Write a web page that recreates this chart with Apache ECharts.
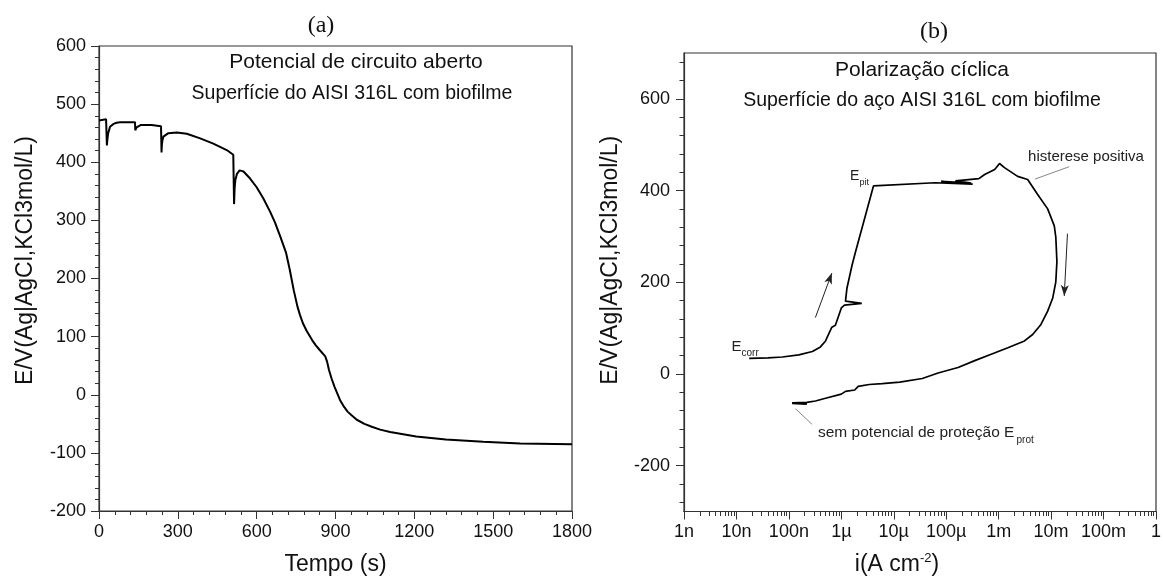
<!DOCTYPE html>
<html>
<head>
<meta charset="utf-8">
<script src="https://cdn.jsdelivr.net/npm/echarts@6/dist/echarts.min.js"></script>
<style>
  html, body { margin: 0; padding: 0; background: #fff; }
  #main { width: 1164px; height: 581px; }
</style>
</head>
<body>
<div id="main"></div>
<script>
// (a) potencial de circuito aberto
var timeA = [0, 27, 29, 30, 32, 35, 42, 55, 67, 80, 137, 138, 139, 143, 148, 158, 200, 236, 237, 238, 239, 241, 245, 251, 264, 296, 334, 385, 435, 486, 511, 513, 514, 516, 519, 525, 535, 550, 575, 600, 625, 651, 670, 690, 712, 726, 741, 755, 765, 776, 790, 811, 825, 840, 861, 868, 875, 885, 896, 917, 930, 946, 960, 981, 1010, 1038, 1070, 1108, 1207, 1320, 1462, 1603, 1800];
var potentialA = [472, 474, 474, 429, 440, 450, 461, 466, 468, 469, 469, 455, 455, 460, 462, 464, 464, 462, 440, 417, 428, 437, 444, 447, 450, 451, 449, 441, 432, 421, 413, 411, 328, 355, 370, 380, 386, 384, 372, 357, 338, 315, 296, 272, 244, 215, 180, 152, 137, 123, 110, 94, 85, 77, 66, 57, 43, 28, 14, -9, -19, -29, -35, -43, -50, -55, -60, -64, -72, -77, -81, -84, -85];

// (b) polarizacao ciclica, i em A cm-2
var currentB = [1.75e-8, 4e-8, 7.5e-8, 1.55e-7, 2.8e-7, 4.0e-7, 5.0e-7, 5.9e-7, 6.6e-7, 7.7e-7, 8.6e-7, 1.0e-6, 1.15e-6, 2.45e-6, 1.2e-6, 1.28e-6, 1.6e-6, 1.85e-6, 4.1e-6,
  6.1e-5, 3.2e-4, 8e-5, 3.0e-4, 1.5e-4, 4.2e-4, 5.4e-4, 8.4e-4, 1.04e-3, 1.29e-3, 2.3e-3, 3.57e-3, 5.5e-3, 8.6e-3, 1.15e-2, 1.23e-2, 1.29e-2, 1.23e-2, 1.07e-2, 8.6e-3, 6.4e-3, 4.45e-3, 3.1e-3, 1.5e-3, 7.2e-4, 3.5e-4, 1.68e-4,
  7e-5, 3.5e-5, 1.3e-5, 6e-6, 3.4e-6, 2.1e-6, 1.8e-6, 1.2e-6, 1.0e-6, 5e-7, 3.2e-7, 2.2e-7, 1.16e-7, 2.2e-7, 1.15e-7];
var potentialB = [34, 35, 37, 41.5, 49, 59, 72, 90, 102, 106, 122, 144, 150, 154, 159, 187, 237, 265, 410,
  417, 414, 420, 416, 421, 426, 435, 446, 459, 450, 431, 424, 392, 360, 323, 298, 245, 201, 165, 137, 108, 86, 72, 57, 43, 29, 14,
  2, -10, -18, -21, -23, -27, -35, -38, -44, -53, -59, -62, -63, -66, -64];

var yTicksB = [-200, 0, 200, 400, 600];
var xTickLabelsB = ['1n', '10n', '100n', '1µ', '10µ', '100µ', '1m', '10m', '100m', '1'];

// ticks menores
var yMinorB = [];
for (var v = -280; v <= 680; v += 40) { if (v % 200 !== 0) yMinorB.push(v); }
var xMinorExpB = [];
for (var d = -9; d < 0; d++) {
  for (var k = 2; k <= 9; k++) xMinorExpB.push(d + Math.log10(k));
}

var FONT = 'Liberation Sans';
var axisLine = { onZero: false, lineStyle: { color: '#333', width: 1.2 } };
var labelStyle = { color: '#111', fontSize: 18, fontFamily: FONT };
var plain = function (val) { return String(val); };

var chart = echarts.init(document.getElementById('main'));
chart.setOption({
  animation: false,
  backgroundColor: '#fff',
  grid: [
    { left: 99, top: 46, width: 473, height: 465, show: true, borderColor: '#333', borderWidth: 1.2 },
    { left: 684, top: 53, width: 475, height: 463, show: true, borderColor: '#333', borderWidth: 1.2 }
  ],
  xAxis: [
    {
      gridIndex: 0, type: 'value', position: 'bottom', min: 0, max: 1800, interval: 300,
      name: 'Tempo (s)', nameLocation: 'middle', nameGap: 42,
      nameTextStyle: { color: '#111', fontSize: 23, fontFamily: FONT },
      axisLine: axisLine,
      axisTick: { length: 8, lineStyle: { color: '#333' } },
      minorTick: { show: true, splitNumber: 5, length: 4, lineStyle: { color: '#333' } },
      axisLabel: Object.assign({ margin: 12, formatter: plain }, labelStyle),
      splitLine: { show: false }
    },
    {
      gridIndex: 1, type: 'log', logBase: 10, position: 'bottom', min: 1e-9, max: 1, splitNumber: 9,
      name: '{n|i(A cm}{s|-2}{n|)}', nameLocation: 'middle', nameGap: 40,
      nameTextStyle: {
        color: '#111', fontFamily: FONT, padding: [0, 46, 0, 0],
        rich: {
          n: { fontSize: 23, fontFamily: FONT, color: '#111', lineHeight: 26 },
          s: { fontSize: 13, fontFamily: FONT, color: '#111', verticalAlign: 'top', lineHeight: 26 }
        }
      },
      axisLine: axisLine,
      axisTick: { length: 8, lineStyle: { color: '#333' } },
      axisLabel: Object.assign({
        margin: 12,
        formatter: function (val) {
          return xTickLabelsB[Math.round(Math.log10(val)) + 9];
        }
      }, labelStyle),
      splitLine: { show: false }
    },
    {
      gridIndex: 1, type: 'value', position: 'bottom', min: -9, max: 0,
      axisLine: { show: false, onZero: false },
      axisTick: { customValues: xMinorExpB, length: 4.5, lineStyle: { color: '#333' } },
      axisLabel: { show: false },
      splitLine: { show: false }
    }
  ],
  yAxis: [
    {
      gridIndex: 0, type: 'value', position: 'left', min: -200, max: 600, interval: 100,
      name: 'E/V(Ag|AgCl,KCl3mol/L)', nameLocation: 'middle', nameGap: 62,
      nameTextStyle: { color: '#111', fontSize: 23, fontFamily: FONT, padding: [0, 0, 0, 36] },
      axisLine: axisLine,
      axisTick: { length: 8, lineStyle: { color: '#333' } },
      minorTick: { show: true, splitNumber: 5, length: 4, lineStyle: { color: '#333' } },
      axisLabel: Object.assign({ margin: 13 }, labelStyle),
      splitLine: { show: false }
    },
    {
      gridIndex: 1, type: 'value', position: 'left', min: -300, max: 700,
      name: 'E/V(Ag|AgCl,KCl3mol/L)', nameLocation: 'middle', nameGap: 62,
      nameTextStyle: { color: '#111', fontSize: 23, fontFamily: FONT, padding: [0, 0, 0, 44] },
      axisLine: axisLine,
      axisTick: { customValues: yTicksB, length: 8, lineStyle: { color: '#333' } },
      axisLabel: Object.assign({ customValues: yTicksB, margin: 14 }, labelStyle),
      splitLine: { show: false }
    },
    {
      gridIndex: 1, type: 'value', position: 'left', min: -300, max: 700,
      axisLine: { show: false, onZero: false },
      axisTick: { customValues: yMinorB, length: 4.5, lineStyle: { color: '#333' } },
      axisLabel: { show: false },
      splitLine: { show: false }
    }
  ],
  series: [
    {
      type: 'line', xAxisIndex: 0, yAxisIndex: 0,
      data: timeA.map(function (t, i) { return [t, potentialA[i]]; }),
      showSymbol: false, symbol: 'none',
      lineStyle: { color: '#000', width: 2 }
    },
    {
      type: 'line', xAxisIndex: 1, yAxisIndex: 1,
      data: currentB.map(function (c, i) { return [c, potentialB[i]]; }),
      showSymbol: false, symbol: 'none',
      lineStyle: { color: '#000', width: 1.7 },
      markLine: {
        silent: true, symbol: 'none', label: { show: false }, animation: false,
        data: [
          // seta para cima
          [{ coord: [3.2e-7, 123], lineStyle: { color: '#222', width: 1, type: 'solid' } },
           { coord: [6.6e-7, 220], symbol: 'arrow', symbolSize: [6, 11] }],
          // seta para baixo
          [{ coord: [2.05e-2, 306], lineStyle: { color: '#222', width: 1, type: 'solid' } },
           { coord: [1.78e-2, 170], symbol: 'arrow', symbolSize: [6, 11] }],
          // histerese positiva
          [{ coord: [4.92e-3, 425], lineStyle: { color: '#666', width: 0.8, type: 'solid' } },
           { coord: [2.21e-2, 452] }],
          // sem potencial de protecao
          [{ coord: [1.34e-7, -76], lineStyle: { color: '#666', width: 0.8, type: 'solid' } },
           { coord: [2.77e-7, -110] }]
        ]
      }
    }
  ],
  graphic: [
    { type: 'text', x: 321, y: 26, style: { text: '(a)', font: '24px "Liberation Serif"', fill: '#111', textAlign: 'center', textVerticalAlign: 'middle' } },
    { type: 'text', x: 934, y: 32, style: { text: '(b)', font: '24px "Liberation Serif"', fill: '#111', textAlign: 'center', textVerticalAlign: 'middle' } },
    { type: 'text', x: 356, y: 62, style: { text: 'Potencial de circuito aberto', font: '21px "Liberation Sans"', fill: '#111', textAlign: 'center', textVerticalAlign: 'middle' } },
    { type: 'text', x: 352, y: 94, style: { text: 'Superfície do AISI 316L com biofilme', font: '19.5px "Liberation Sans"', fill: '#111', textAlign: 'center', textVerticalAlign: 'middle' } },
    { type: 'text', x: 922, y: 70, style: { text: 'Polarização cíclica', font: '21px "Liberation Sans"', fill: '#111', textAlign: 'center', textVerticalAlign: 'middle' } },
    { type: 'text', x: 922, y: 101, style: { text: 'Superfície do aço AISI 316L com biofilme', font: '19.5px "Liberation Sans"', fill: '#111', textAlign: 'center', textVerticalAlign: 'middle' } },
    { type: 'text', x: 1086, y: 157, style: { text: 'histerese positiva', font: '15px "Liberation Sans"', fill: '#222', textAlign: 'center', textVerticalAlign: 'middle' } },
    { type: 'text', x: 850, y: 176, style: { text: 'E', font: '14px "Liberation Sans"', fill: '#222', textAlign: 'left', textVerticalAlign: 'middle' } },
    { type: 'text', x: 859.5, y: 182.5, style: { text: 'pit', font: '9px "Liberation Sans"', fill: '#222', textAlign: 'left', textVerticalAlign: 'middle' } },
    { type: 'text', x: 731.5, y: 346.5, style: { text: 'E', font: '15px "Liberation Sans"', fill: '#222', textAlign: 'left', textVerticalAlign: 'middle' } },
    { type: 'text', x: 741.5, y: 353, style: { text: 'corr', font: '10px "Liberation Sans"', fill: '#222', textAlign: 'left', textVerticalAlign: 'middle' } },
    { type: 'text', x: 818, y: 433, style: { text: 'sem potencial de proteção E', font: '15.5px "Liberation Sans"', fill: '#222', textAlign: 'left', textVerticalAlign: 'middle' } },
    { type: 'text', x: 1016.5, y: 440.5, style: { text: 'prot', font: '10px "Liberation Sans"', fill: '#222', textAlign: 'left', textVerticalAlign: 'middle' } }
  ]
});
</script>
</body>
</html>
